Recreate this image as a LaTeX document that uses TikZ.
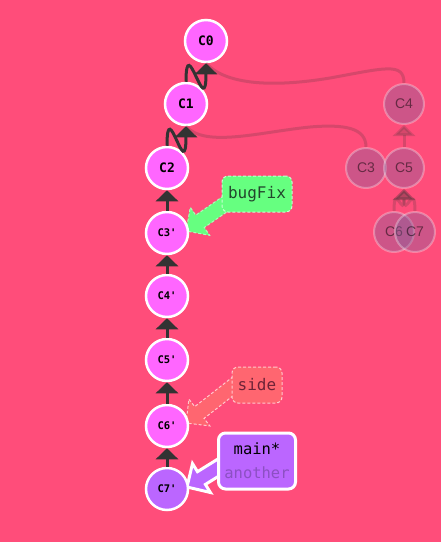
\documentclass[tikz,border=0pt]{standalone}
\usepackage{fontspec}
\setmainfont{Liberation Sans}
\newfontfamily\monof{DejaVu Sans Mono}
\usetikzlibrary{arrows.meta,calc}
\definecolor{bgc}{RGB}{255,77,122}
\definecolor{cfill}{RGB}{255,102,255}
\definecolor{cmain}{RGB}{187,102,255}
\definecolor{gfill}{RGB}{130,97,157}
\definecolor{bfgreen}{RGB}{102,255,128}
\definecolor{sidec}{RGB}{255,102,112}
\definecolor{edgec}{RGB}{51,51,51}
\definecolor{anothc}{RGB}{140,80,195}
\definecolor{sidetxt}{RGB}{110,35,55}
\definecolor{bftxt}{RGB}{35,70,45}
\pgfdeclarelayer{bgl}
\pgfdeclarelayer{arl}
\pgfsetlayers{bgl,arl,main}
\tikzset{
  commit/.style={circle, draw=white, line width=2.5pt, fill=cfill, minimum size=42pt, inner sep=0pt,
    font=\monof\bfseries\fontsize{13}{15}\selectfont},
  commitsm/.style={commit, font=\monof\bfseries\fontsize{10.5}{12}\selectfont},
  ghost/.style={circle, draw=white, draw opacity=0.3, line width=2pt, fill=gfill, fill opacity=0.4,
    text=black, text opacity=0.5, minimum size=40pt, inner sep=0pt, font=\fontsize{14}{16}\selectfont},
  parentline/.style={draw=edgec, line width=3pt, -{Triangle[width=22pt,length=11pt]}},
  ghostline/.style={draw=edgec, opacity=0.2, line width=3pt},
  ghostarrow/.style={ghostline, -{Triangle[width=22pt,length=11pt]}},
  bflabel/.style={rectangle, rounded corners=6pt, fill=bfgreen, draw=white!65!bfgreen, line width=1pt,
    dash pattern=on 3pt off 2pt, minimum width=70pt, minimum height=36pt, inner sep=0pt,
    text=bftxt, font=\monof\fontsize{16}{18}\selectfont},
  sidelabel/.style={bflabel, fill=sidec, draw=white!65!sidec, minimum width=50pt, text=sidetxt},
  mainlabel/.style={rectangle, rounded corners=7pt, fill=cmain, draw=white, line width=3pt,
    minimum width=77pt, minimum height=56pt, inner sep=0pt, align=center,
    font=\monof\fontsize{15.5}{24}\selectfont},
  bfarrow/.style={fill=bfgreen, draw=white!45!bfgreen, line width=1pt, dash pattern=on 3pt off 2pt},
  sidearrow/.style={fill=sidec, draw=white!65!sidec, line width=1pt, dash pattern=on 3pt off 2pt},
  mainarrow/.style={fill=cmain, draw=white, line width=3pt, line join=miter},
}
\newcommand\fatarrow[3]{%
  \coordinate (fah) at ($(#3)!17pt!(#2)$);
  \path[#1] ($(#2)!7.5pt!90:(#3)$) -- ($(fah)!7.5pt!90:(#3)$) -- ($(fah)!17pt!90:(#3)$) -- (#3)
    -- ($(fah)!17pt!-90:(#3)$) -- ($(fah)!7.5pt!-90:(#3)$) -- ($(#2)!7.5pt!-90:(#3)$) -- cycle;}
\begin{document}
\begin{tikzpicture}[x=1pt,y=-1pt]
\useasboundingbox (0,0) rectangle (441,542);
\begin{pgfonlayer}{bgl}
  \fill[bgc] (0,0) rectangle (441,542);
\end{pgfonlayer}
% ghost commits
\node[ghost] (g4) at (404,104) {C4};
\node[ghost] (g3) at (366,168) {C3};
\node[ghost] (g5) at (404,168) {C5};
\node[ghost] (g6) at (394,232) {C6};
\node[ghost] (g7) at (415,232) {C7};
% commits
\node[commit] (c0) at (206,41) {C0};
\node[commit] (c1) at (186,104) {C1};
\node[commit] (c2) at (167,168) {C2};
\node[commitsm] (c3) at (167,233) {C3'};
\node[commitsm] (c4) at (167,296) {C4'};
\node[commitsm] (c5) at (167,360) {C5'};
\node[commitsm] (c6) at (167,426) {C6'};
\node[commitsm, fill=cmain] (c7) at (167,489) {C7'};
% ghost connectors
\draw[ghostline] (g4.north) .. controls (404,62) and (385,68) .. (330,78) .. controls (270,88) and (225,84) .. (c0.south);
\draw[ghostline] (g3.north) .. controls (366,128) and (345,124) .. (310,127) .. controls (260,132) and (205,148) .. (c1.south);
\draw[ghostarrow] (g5.north) -- (g4.south);
\draw[ghostarrow] (g6.north) .. controls +(0,-30) and +(0,30) .. (g5.south);
\draw[ghostarrow] (g7.north) .. controls +(0,-30) and +(0,30) .. (g5.south);
% commit connectors
\draw[parentline] (c1.north) .. controls +(0,-52) and +(0,59) .. (c0.south);
\draw[parentline] (c2.north) .. controls +(0,-52) and +(0,59) .. (c1.south);
\draw[parentline] (c3.north) -- (c2.south);
\draw[parentline] (c4.north) -- (c3.south);
\draw[parentline] (c5.north) -- (c4.south);
\draw[parentline] (c6.north) -- (c5.south);
\draw[parentline] (c7.north) -- (c6.south);
% branch labels
\node[bflabel] (bugfix) at (257,194) {bugFix};
\node[sidelabel] (side) at (257,385) {side};
\node[mainlabel] (mainb) at (257,461) {main*\\\textcolor{anothc}{another}};
\coordinate (bfS) at ($(bugfix.south west)+(13,-15)$);
\coordinate (bfT) at ($(c3.center)+(19,-2)$);
\coordinate (sdS) at ($(side.south west)+(5,-20)$);
\coordinate (sdT) at ($(c6.center)+(19,-3)$);
\coordinate (mnS) at ($(mainb.west)+(20,-5)$);
\coordinate (mnT) at ($(c7.center)+(20,-2)$);
\begin{pgfonlayer}{arl}
  \fatarrow{bfarrow}{bfS}{bfT}
  \fatarrow{sidearrow}{sdS}{sdT}
  \fatarrow{mainarrow}{mnS}{mnT}
\end{pgfonlayer}
\end{tikzpicture}
\end{document}
